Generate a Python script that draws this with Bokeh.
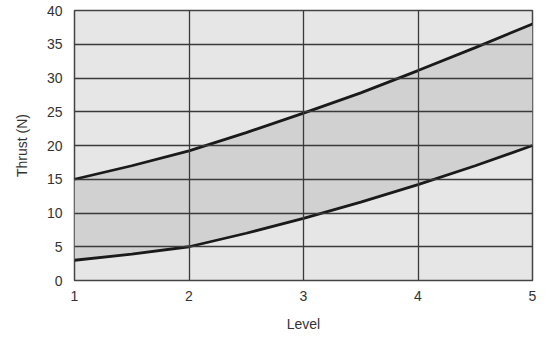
from bokeh.plotting import figure
from bokeh.models import FixedTicker, Range1d
from bokeh.embed import file_html
from bokeh.resources import INLINE

# Data
level = [1.0, 1.5, 2.0, 2.5, 3.0, 3.5, 4.0, 4.5, 5.0]
thrust_max = [15.0, 17.0, 19.2, 21.9, 24.8, 27.8, 31.1, 34.5, 38.0]
thrust_min = [3.0, 3.9, 5.0, 7.0, 9.2, 11.6, 14.2, 17.0, 20.0]
x_ticks = [1, 2, 3, 4, 5]
y_ticks = [0, 5, 10, 15, 20, 25, 30, 35, 40]

FONT = "Liberation Sans"
TEXT = "#333333"

# 538 x 334 so that the page (8px margin all round) fits the 554 x 350 window
p = figure(
    width=538, height=334,
    x_range=Range1d(1, 5), y_range=Range1d(0, 40),
    output_backend="svg", toolbar_location=None,
    min_border_left=74, min_border_right=6,
    min_border_top=10, min_border_bottom=54,
    x_axis_label="Level", y_axis_label="Thrust (N)",
)

p.background_fill_color = "#e6e6e6"
p.border_fill_color = "white"
p.outline_line_color = "#444444"
p.outline_line_width = 1.5

# band between min and max thrust
p.varea(x=level, y1=thrust_min, y2=thrust_max, fill_color="#d1d1d1")
p.line(level, thrust_max, line_color="#1a1a1a", line_width=2.8)
p.line(level, thrust_min, line_color="#1a1a1a", line_width=2.8)

p.xaxis.ticker = FixedTicker(ticks=x_ticks)
p.yaxis.ticker = FixedTicker(ticks=y_ticks)

for g in (p.xgrid, p.ygrid):
    g.grid_line_color = "#3a3a3a"
    g.grid_line_width = 1.3
    g.level = "guide"

for ax in (p.xaxis, p.yaxis):
    ax.axis_line_color = None
    ax.major_tick_line_color = None
    ax.minor_tick_line_color = None
    ax.major_tick_in = 0
    ax.major_tick_out = 0
    ax.major_label_text_font = FONT
    ax.major_label_text_font_size = "14px"
    ax.major_label_text_color = TEXT
    ax.axis_label_text_font = FONT
    ax.axis_label_text_font_size = "14px"
    ax.axis_label_text_font_style = "normal"
    ax.axis_label_text_color = TEXT

p.xaxis.major_label_standoff = 10
p.xaxis.axis_label_standoff = 12
p.yaxis.major_label_standoff = 12
p.yaxis.axis_label_standoff = 14

open("out.html", "w").write(file_html(p, INLINE))
